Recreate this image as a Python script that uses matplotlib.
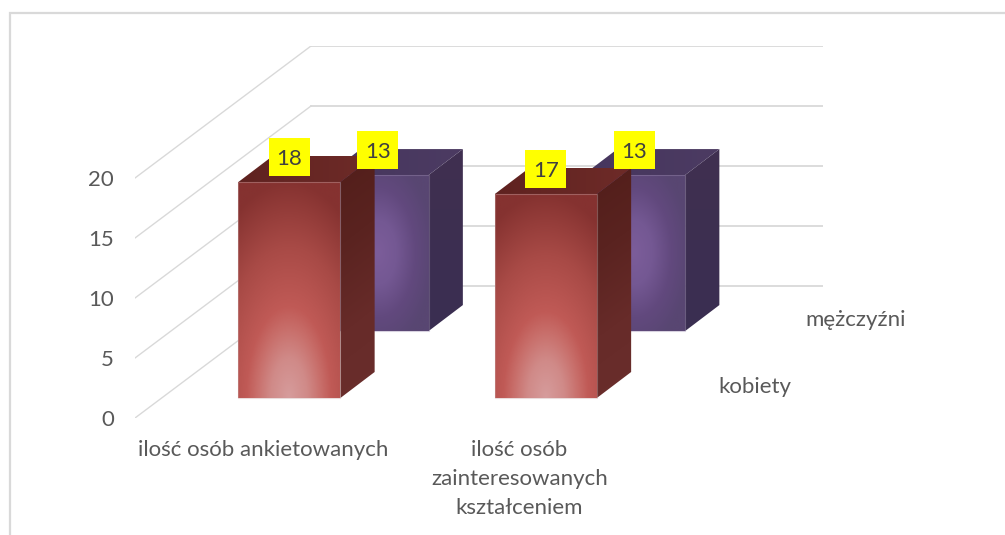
import numpy as np
import matplotlib
matplotlib.use("Agg")
import matplotlib.pyplot as plt
from matplotlib.lines import Line2D
from matplotlib.patches import Polygon, Rectangle
from matplotlib.colors import LinearSegmentedColormap
from matplotlib.transforms import Affine2D

categories = ["ilość osób ankietowanych", "ilość osób\nzainteresowanych\nkształceniem"]
series_names = ["kobiety", "mężczyźni"]
kobiety = [18, 17]
mezczyzni = [13, 13]
y_ticks = [0, 5, 10, 15, 20]

W, H = 1005, 535
plt.rcParams['font.family'] = ['Lato', 'DejaVu Sans']
TXT = '#595959'
GRID = '#D9D9D9'
fig = plt.figure(figsize=(W / 100, H / 100), dpi=100)
fig.patch.set_facecolor('white')

# chart frame: only the top and left edges are inside the picture
fig.add_artist(Line2D([10 / W, 10 / W, 1], [0, (H - 13) / H, (H - 13) / H], transform=fig.transFigure,
                      color=GRID, lw=1.6, solid_joinstyle='miter'))

PX_X, PX_Y = 256.5, 12.0
L, R, B, T = 135, 823, 418, 46
ax = fig.add_axes([L / W, (H - B) / H, (R - L) / W, (B - T) / H])
xlim = ((L - 263) / PX_X, (R - 263) / PX_X)
ylim = (0, (B - T) / PX_Y)
ax.set_xlim(xlim)
ax.set_ylim(ylim)
ax.patch.set_alpha(0)
for s in ax.spines.values():
    s.set_visible(False)

WALL_DX, DX, DY = 176 / PX_X, 174 / PX_X, 132 / PX_Y


def proj(x, v, d):
    return x + d * DX, v + d * DY


# walls
for t in y_ticks:
    ax.plot([xlim[0], xlim[0] + WALL_DX], [t, t + DY], color=GRID, lw=1.0, zorder=1)
    ax.plot([xlim[0] + WALL_DX, xlim[1]], [t + DY, t + DY], color=GRID, lw=1.3, zorder=1)

red_cm = LinearSegmentedColormap.from_list(
    'r', [(0, '#D69C9C'), (.18, '#D08A88'), (.32, '#C86E6A'), (.42, '#C05A56'), (.7, '#A84A46'), (1, '#853230')])
pur_cm = LinearSegmentedColormap.from_list('p', ['#7C5D9A', '#745893', '#62497E', '#584672'])
BW = 102 / PX_X
BD = 26 / 132


def fill_poly(poly, cm, fn, z, ec=None):
    px = np.array(poly)
    x0, x1, y0, y1 = px[:, 0].min(), px[:, 0].max(), px[:, 1].min(), px[:, 1].max()
    u, v = np.meshgrid(np.linspace(0, 1, 120), np.linspace(0, 1, 160))
    im = ax.imshow(fn(u, v), cmap=cm, vmin=0, vmax=1, extent=(x0, x1, y0, y1), origin='lower',
                   aspect='auto', zorder=z, interpolation='bilinear')
    p = Polygon(poly, closed=True, transform=ax.transData, fc='none', ec='none')
    ax.add_patch(p)
    im.set_clip_path(p)
    if ec:
        ax.add_patch(Polygon(poly, closed=True, fc='none', ec=ec, lw=0.8, zorder=z + 0.1, alpha=0.4))


def bar3d(cat, val, depth, style, z):
    d0, d1 = depth - BD / 2, depth + BD / 2
    xl, xr = cat - BW / 2, cat + BW / 2
    front = [proj(xl, 0, d0), proj(xr, 0, d0), proj(xr, val, d0), proj(xl, val, d0)]
    side = [proj(xr, 0, d0), proj(xr, 0, d1), proj(xr, val, d1), proj(xr, val, d0)]
    top = [proj(xl, val, d0), proj(xr, val, d0), proj(xr, val, d1), proj(xl, val, d1)]
    if style == 'red':
        fill_poly(front, red_cm,
                  lambda u, v: np.clip(np.sqrt(((u - .5) / 1.0) ** 2 + v ** 2), 0, 1), z, '#C9A6A6')
        side_cm = LinearSegmentedColormap.from_list('rs', ['#6A2E2C', '#672B29', '#5A2320', '#521E1A'])
        fill_poly(side, side_cm, lambda u, v: np.clip(v * .9 + (1 - u) * .1, 0, 1), z)
        top_cm = LinearSegmentedColormap.from_list('rt', ['#5F2220', '#6E2B28'])
        fill_poly(top, top_cm, lambda u, v: u, z)
    else:
        fill_poly(front, pur_cm,
                  lambda u, v: np.clip(np.sqrt(((u - .5) / .55) ** 2 + ((v - .5) / .62) ** 2), 0, 1), z, '#9C8CB0')
        side_cm = LinearSegmentedColormap.from_list('ps', ['#3A2E52', '#403050'])
        fill_poly(side, side_cm, lambda u, v: v, z)
        top_cm = LinearSegmentedColormap.from_list('pt', ['#46365E', '#4C3B62'])
        fill_poly(top, top_cm, lambda u, v: u, z)
    return proj(cat, val, d0)


DEPTH = [0.25, 0.757]
FS = 16
BOX_W, BOX_H, BOX_UP = 41, 38, 25
for i in range(len(categories)):
    a = bar3d(i, mezczyzni[i], DEPTH[1], 'pur', 3 + i * 2)
    b = bar3d(i, kobiety[i], DEPTH[0], 'red', 4 + i * 2)
    for xy, v in ((b, kobiety[i]), (a, mezczyzni[i])):
        px, py = ax.transData.transform(xy)
        ax.add_artist(Rectangle((-BOX_W / 2, -BOX_H / 2), BOX_W, BOX_H, fc='#FFFF00', ec='none', zorder=20,
                                transform=Affine2D().translate(px, py + BOX_UP), clip_on=False))
        ax.text(px, py + BOX_UP, str(v), transform=None, ha='center', va='center_baseline',
                fontsize=FS, color='#404040', zorder=21)

ax.set_xlim(xlim)
ax.set_ylim(ylim)
ax.set_yticks(y_ticks)
ax.set_yticklabels([str(t) for t in y_ticks], fontsize=FS, color=TXT)
ax.set_xticks(range(len(categories)))
ax.set_xticklabels(categories, fontsize=FS, color=TXT, linespacing=1.56)
ax.tick_params(axis='y', length=0, pad=15)
ax.tick_params(axis='x', length=0, pad=16)

ax.text(755, H - 387, series_names[0], transform=None, fontsize=FS, color=TXT, ha='center', va='center')
ax.text(855.5, H - 320, series_names[1], transform=None, fontsize=FS, color=TXT, ha='center', va='center')

fig.savefig('out.png', dpi=100)
